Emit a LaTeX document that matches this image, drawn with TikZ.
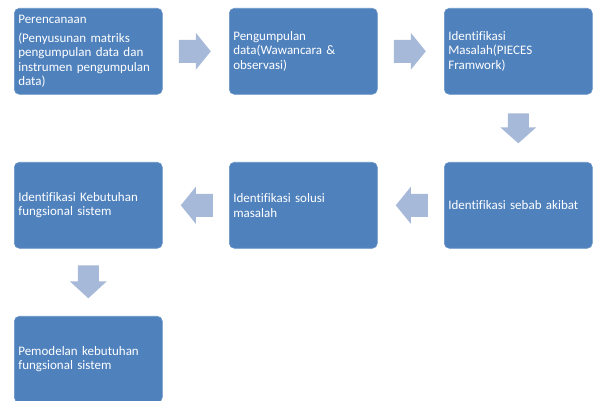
\documentclass[tikz,border=0pt]{standalone}
\usepackage{fontspec}
\setmainfont{Carlito}[Ligatures={NoCommon}]
\usetikzlibrary{calc}
\definecolor{boxblue}{RGB}{79,129,189}
\definecolor{arrowblue}{RGB}{167,185,217}
\tikzset{
  stepbox/.style={fill=boxblue, draw=boxblue!85!white, line width=0.6pt, rounded corners=5pt,
    minimum width=148pt, minimum height=86pt, text width=140pt, inner xsep=4pt,
    align=left, text=white, anchor=north west,
    font=\fontsize{13pt}{14.5pt}\selectfont},
  blockarrow/.style={fill=arrowblue}
}
\begin{document}
\begin{tikzpicture}[x=1pt,y=-1pt]
\useasboundingbox (0,0) rectangle (598,401);
\node[stepbox] (b1) at (14,8) {Perencanaan\\[4pt](Penyusunan matriks\\pengumpulan data dan\\instrumen pengumpulan\\data)};
\node[stepbox] (b2) at (229,8) {Pengumpulan\\data(Wawancara \&\\observasi)};
\node[stepbox] (b3) at (444,8) {Identifikasi\\Masalah(PIECES\\Framwork)};
\node[stepbox] (b4) at (444,162) {Identifikasi sebab akibat};
\node[stepbox] (b5) at (229,162) {Identifikasi solusi\\masalah};
\node[stepbox] (b6) at (14,162) {Identifikasi Kebutuhan\\fungsional sistem};
\node[stepbox] (b7) at (14,316) {Pemodelan kebutuhan\\fungsional sistem};
% right arrows
\fill[blockarrow, shift={($(b1.east)!0.5!(b2.west)$)}] (-17,-11.5) -- (0,-11.5) -- (0,-18.5) -- (15,0) -- (0,18.5) -- (0,11.5) -- (-17,11.5) -- cycle;
\fill[blockarrow, shift={($(b2.east)!0.5!(b3.west)$)}] (-17,-11.5) -- (0,-11.5) -- (0,-18.5) -- (15,0) -- (0,18.5) -- (0,11.5) -- (-17,11.5) -- cycle;
% down arrows
\fill[blockarrow, shift={($(b3.south)!0.5!(b4.north)$)}] (-10.5,-15) -- (10.5,-15) -- (10.5,-1) -- (18,-1) -- (0,15) -- (-18,-1) -- (-10.5,-1) -- cycle;
\fill[blockarrow, shift={($(b6.south)!0.5!(b7.north)$)}] (-10.5,-17) -- (10.5,-17) -- (10.5,-1) -- (18.5,-1) -- (0,16) -- (-18.5,-1) -- (-10.5,-1) -- cycle;
% left arrows
\fill[blockarrow, shift={($(b4.west)!0.5!(b5.east)$)}] (17,-11.5) -- (0,-11.5) -- (0,-18.5) -- (-15,0) -- (0,18.5) -- (0,11.5) -- (17,11.5) -- cycle;
\fill[blockarrow, shift={($(b5.west)!0.5!(b6.east)$)}] (17,-11.5) -- (0,-11.5) -- (0,-18.5) -- (-15,0) -- (0,18.5) -- (0,11.5) -- (17,11.5) -- cycle;
\end{tikzpicture}
\end{document}
